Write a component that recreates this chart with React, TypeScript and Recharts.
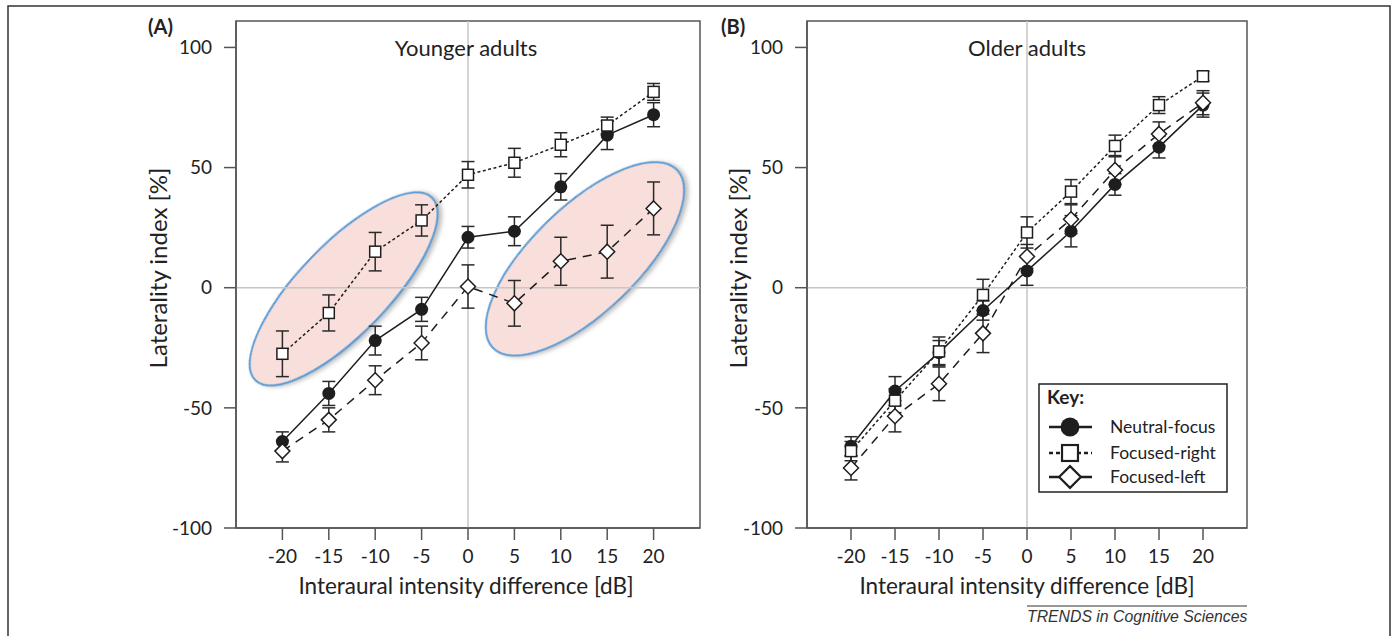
import React from 'react'
import { ComposedChart, Line, Scatter, XAxis, YAxis, ReferenceLine, ReferenceArea, ErrorBar } from 'recharts'

const FONT = 'Lato, "Open Sans", sans-serif'

const iid = [-20, -15, -10, -5, 0, 5, 10, 15, 20]
const yTicks = [-100, -50, 0, 50, 100]

// (A) younger adults
const youngNeutral = [-64, -44, -22, -9, 21, 23.5, 42, 63.5, 72]
const youngNeutralErr = [4, 5, 6, 5, 4.5, 6, 5.5, 6, 5]
const youngRight = [-27.5, -10.5, 15, 28, 47, 52, 59.5, 67.5, 81.5]
const youngRightErr = [9.5, 7.5, 8, 6.5, 5.5, 6, 5, 3.5, 3.5]
const youngLeft = [-68, -55, -38.5, -23, 0.5, -6.5, 11, 15, 33]
const youngLeftErr = [4.5, 5, 6, 7, 9, 9.5, 10, 11, 11]

// (B) older adults
const oldNeutral = [-66, -43, -27, -9.5, 7, 23.5, 43, 58.5, 76]
const oldNeutralErr = [4, 6, 5, 4, 6, 6.5, 4.5, 4.5, 5]
const oldRight = [-68, -47, -26.5, -3, 23, 40, 59, 76, 88]
const oldRightErr = [4, 5, 6, 6.5, 6.5, 5, 4.5, 3.5, 2]
const oldLeft = [-75, -53.5, -40, -19, 13, 28.5, 49, 64, 77]
const oldLeftErr = [5, 6.5, 7, 8, 5, 6, 6, 5, 5]

// highlighted clusters in panel A (centres, data units)
const clusterLow = [{ iid: -13.4, li: -0.5 }]
const clusterHigh = [{ iid: 12.6, li: 12 }]

const seriesNames = ['Neutral-focus', 'Focused-right', 'Focused-left']

const build = (nf: number[], nfE: number[], fr: number[], frE: number[], fl: number[], flE: number[]) =>
  iid.map((x, i) => ({ iid: x, nf: nf[i], nfErr: nfE[i], fr: fr[i], frErr: frE[i], fl: fl[i], flErr: flE[i] }))

const youngData = build(youngNeutral, youngNeutralErr, youngRight, youngRightErr, youngLeft, youngLeftErr)
const oldData = build(oldNeutral, oldNeutralErr, oldRight, oldRightErr, oldLeft, oldLeftErr)

const INK = '#1e1e1e'

const Marker = ({ kind, cx, cy, k = 1 }: { kind: string; cx: number; cy: number; k?: number }) => {
  if (kind === 'circle') return <circle cx={cx} cy={cy} r={6.5 * k} fill={INK} />
  if (kind === 'square') {
    const s = 5.5 * k
    return <rect x={cx - s} y={cy - s} width={2 * s} height={2 * s} fill='#fff' stroke={INK} strokeWidth={1.5 * k} />
  }
  const d = 7.5 * k
  return <path d={`M${cx},${cy - d}L${cx + d},${cy}L${cx},${cy + d}L${cx - d},${cy}Z`} fill='#fff' stroke={INK} strokeWidth={1.5 * k} />
}

const series = [
  { key: 'nf', marker: 'circle', dash: undefined as string | undefined },
  { key: 'fr', marker: 'square', dash: '3 2.5' },
  { key: 'fl', marker: 'diamond', dash: '9 7' },
]

const ellipseShape = (rx: number, ry: number, angle: number) => (p: any) => (
  <ellipse
    cx={p.cx}
    cy={p.cy}
    rx={rx}
    ry={ry}
    transform={`rotate(${angle} ${p.cx} ${p.cy})`}
    fill='#f8dfdb'
    stroke='#5b9bd5'
    strokeWidth={2}
    style={{ filter: 'drop-shadow(2px 3px 2px rgba(0,0,0,0.25))' }}
  />
)

type PanelProps = { data: any[]; width: number; marginLeft: number; marginRight: number; back?: boolean; clusters?: boolean }

const Panel = ({ data, width, marginLeft, marginRight, back, clusters }: PanelProps) => {
  const axisLine = back ? false : { stroke: '#555', strokeWidth: 1.5 }
  const tick = back ? false : { fill: '#222', fontSize: 19, fontFamily: FONT }
  return (
    <ComposedChart width={width} height={636} data={data} margin={{ top: 21, right: marginRight, bottom: 78, left: marginLeft }}>
      <XAxis
        dataKey='iid'
        type='number'
        domain={[-25, 25]}
        ticks={iid}
        allowDataOverflow
        height={30}
        tickSize={12}
        tickMargin={10}
        axisLine={axisLine}
        tickLine={axisLine}
        tick={tick}
      />
      <YAxis
        type='number'
        domain={[-100, 111]}
        ticks={yTicks}
        allowDataOverflow
        width={60}
        tickSize={12}
        tickMargin={12}
        axisLine={axisLine}
        tickLine={axisLine}
        tick={tick}
      />
      {back && clusters && <Scatter data={clusterLow} dataKey='li' isAnimationActive={false} shape={ellipseShape(127, 45, -46)} />}
      {back && clusters && <Scatter data={clusterHigh} dataKey='li' isAnimationActive={false} shape={ellipseShape(128, 53, -44)} />}
      {!back && <ReferenceArea x1={-25} x2={25} y1={-100} y2={111} fill='none' fillOpacity={0} stroke='#555' strokeWidth={1.5} />}
      {!back && <ReferenceLine x={0} stroke='#c6c6c6' strokeWidth={1.5} />}
      {!back && <ReferenceLine y={0} stroke='#c6c6c6' strokeWidth={1.5} />}
      {!back &&
        series.map((s) => (
          <Line
            key={s.key}
            dataKey={s.key}
            type='linear'
            stroke={INK}
            strokeWidth={1.5}
            strokeDasharray={s.dash}
            isAnimationActive={false}
            activeDot={false}
            dot={(p: any) => <Marker key={`${s.key}-${p.index}`} kind={s.marker} cx={p.cx} cy={p.cy} />}
          >
            <ErrorBar dataKey={`${s.key}Err`} width={6.5} stroke='#2a2a2a' strokeWidth={1.5} direction='y' />
          </Line>
        ))}
    </ComposedChart>
  )
}

const legendRows = [
  { y: 427, i: 0 },
  { y: 453, i: 1 },
  { y: 477, i: 2 },
]

export default function App() {
  return (
    <div style={{ position: 'absolute', left: 0, top: 0, width: 1396, height: 636, background: '#fff', overflow: 'hidden' }}>
      <div style={{ position: 'absolute', left: 0, top: 0 }}>
        <Panel data={youngData} width={720} marginLeft={176} marginRight={20} back clusters />
      </div>
      <div style={{ position: 'absolute', left: 0, top: 0 }}>
        <Panel data={youngData} width={720} marginLeft={176} marginRight={20} />
      </div>
      <div style={{ position: 'absolute', left: 720, top: 0 }}>
        <Panel data={oldData} width={560} marginLeft={27} marginRight={33} />
      </div>
      <svg width={1396} height={636} style={{ position: 'absolute', left: 0, top: 0, pointerEvents: 'none' }} fontFamily={FONT}>
        <rect x={8} y={6} width={1382} height={660} fill='none' stroke='#333' strokeWidth={1.5} />
        <text x={148} y={34} fontSize={20} fontWeight='bold' fill='#222'>(A)</text>
        <text x={721} y={34} fontSize={20} fontWeight='bold' fill='#222'>(B)</text>
        <text x={466} y={56} fontSize={22} textAnchor='middle' fill='#222'>Younger adults</text>
        <text x={1027} y={56} fontSize={22} textAnchor='middle' fill='#222'>Older adults</text>
        <text x={466} y={594} fontSize={22.5} textAnchor='middle' fill='#222'>Interaural intensity difference [dB]</text>
        <text x={1027} y={594} fontSize={22.5} textAnchor='middle' fill='#222'>Interaural intensity difference [dB]</text>
        <text transform='translate(167 268) rotate(-90)' fontSize={24} textAnchor='middle' fill='#222'>Laterality index [%]</text>
        <text transform='translate(747 268) rotate(-90)' fontSize={24} textAnchor='middle' fill='#222'>Laterality index [%]</text>

        <rect x={1039} y={384} width={188} height={108} fill='#fff' stroke='#222' strokeWidth={1.5} />
        <text x={1047} y={404} fontSize={19} fontWeight='bold' fill='#222'>Key:</text>
        {legendRows.map((r) => (
          <g key={r.i}>
            <line x1={1049} x2={1092} y1={r.y} y2={r.y} stroke={INK} strokeWidth={2.5} strokeDasharray={r.i === 1 ? '4 3' : undefined} />
            <Marker kind={series[r.i].marker} cx={1070} cy={r.y} k={1.45} />
            <text x={1110} y={r.y + 6} fontSize={17.5} fill='#222'>{seriesNames[r.i]}</text>
          </g>
        ))}

        <line x1={1027} x2={1247} y1={606} y2={606} stroke='#333' strokeWidth={1} />
        <text x={1027} y={622} fontSize={15.8} fontStyle='italic' fontFamily='"Liberation Sans", Arial, sans-serif' fill='#333'>TRENDS in Cognitive Sciences</text>
      </svg>
    </div>
  )
}
